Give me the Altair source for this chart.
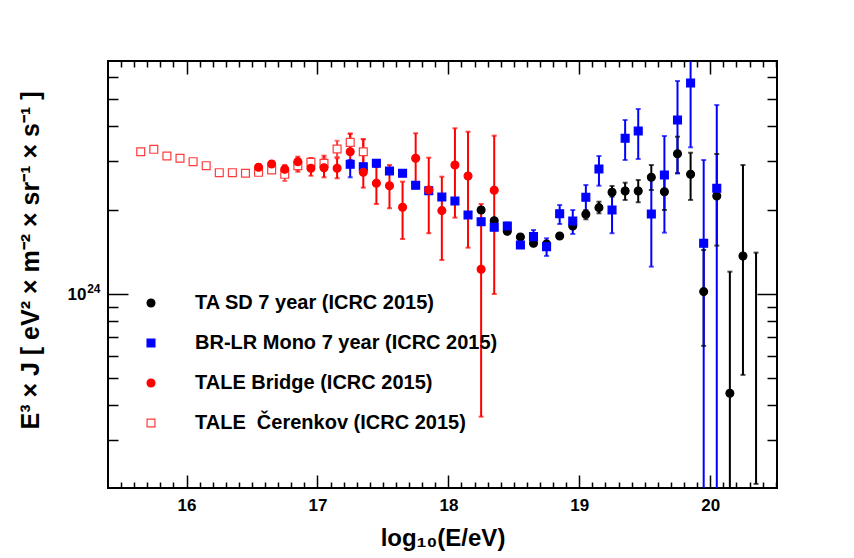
import altair as alt
import pandas as pd

# ---------------- data (E^3 J in units of 1e24 eV^2 m^-2 sr^-1 s^-1) ----------------
series_names = [
    "TA SD 7 year (ICRC 2015)",
    "BR-LR Mono 7 year (ICRC 2015)",
    "TALE Bridge (ICRC 2015)",
    "TALE\u00a0 Čerenkov (ICRC 2015)",
]

cer_x = [15.65, 15.75, 15.85, 15.95, 16.05, 16.15, 16.25, 16.35, 16.45,
         16.55, 16.65, 16.75, 16.85, 16.95, 17.05, 17.15, 17.25, 17.35]
cer_y = [3.244, 3.309, 3.131, 3.073, 2.988, 2.890, 2.728, 2.728, 2.715,
         2.737, 2.790, 2.692, 2.890, 2.973, 2.948, 3.317, 3.505, 3.244]
cer_lo = [3.20, 3.26, 3.09, 3.03, 2.95, 2.85, 2.69, 2.69, 2.68,
          2.70, 2.75, 2.548, 2.797, 2.876, 2.829, 3.106, 3.263, 2.931]
cer_hi = [3.29, 3.36, 3.17, 3.12, 3.03, 2.93, 2.77, 2.77, 2.75,
          2.78, 2.83, 2.836, 2.988, 3.073, 3.080, 3.552, 3.777, 3.603]

brg_x = [16.55, 16.65, 16.75, 16.85, 16.95, 17.05, 17.15, 17.25, 17.35, 17.45,
         17.55, 17.65, 17.75, 17.85, 17.95, 18.05, 18.15, 18.25, 18.35]
brg_y = [2.853, 2.931, 2.805, 2.988, 2.829, 2.843, 2.829, 3.244, 2.737, 2.500,
         2.450, 2.050, 3.073, 2.365, 1.994, 2.907, 2.655, 1.229, 2.359]
brg_hi = [2.924, 3.005, 2.907, 3.113, 3.080, 3.139, 3.073, 3.755, 3.594, 2.867,
          2.907, 2.533, 3.777, 3.088, 2.640, 3.936, 3.826, 2.107, 3.703]
brg_lo = [2.783, 2.860, 2.706, 2.751, 2.661, 2.626, 2.605, 2.948, 2.411, 2.107,
          2.034, 1.578, 2.418, 1.655, 1.327, 1.882, 1.469, 0.364, 1.002]

br_x = [17.25, 17.35, 17.45, 17.55, 17.65, 17.75, 17.85, 17.95, 18.05, 18.15,
        18.25, 18.35, 18.45, 18.55, 18.65, 18.75, 18.85, 18.95, 19.05, 19.15,
        19.25, 19.35, 19.45, 19.55, 19.65, 19.75, 19.85, 19.95, 20.05]
br_y = [2.924, 2.867, 2.948, 2.767, 2.715, 2.458, 2.351, 2.232, 2.160, 1.924,
        1.820, 1.739, 1.758, 1.502, 1.609, 1.481, 1.945, 1.831, 2.227, 2.813,
        2.005, 3.624, 3.848, 1.940, 2.677, 4.214, 5.720, 1.523, 2.399]
br_hi = [3.029, 2.938, 3.029, 2.813, 2.760, 2.500, 2.390, 2.270, 2.196, 1.956,
         1.851, 1.768, 1.806, 1.540, 1.700, 1.587, 2.089, 2.005, 2.465, 3.131,
         2.379, 4.214, 4.615, 2.626, 3.693, 5.815, 8.000, 3.029, 4.769]
br_lo = [2.626, 2.797, 2.869, 2.721, 2.670, 2.418, 2.313, 2.196, 2.125, 1.893,
         1.791, 1.710, 1.710, 1.465, 1.531, 1.372, 1.786, 1.645, 1.978, 2.450,
         1.655, 3.029, 3.054, 1.256, 1.663, 2.715, 3.364, 0.050, 0.050]

sd_x = [18.25, 18.35, 18.45, 18.55, 18.65, 18.75, 18.85, 18.95, 19.05, 19.15,
        19.25, 19.35, 19.45, 19.55, 19.65, 19.75, 19.85, 19.95, 20.05, 20.15,
        20.25, 20.35]
sd_y = [2.005, 1.835, 1.682, 1.605, 1.523, 1.514, 1.618, 1.758, 1.935, 2.044,
        2.321, 2.346, 2.346, 2.626, 2.332, 3.191, 2.692, 1.022, 2.251, 0.4417,
        1.372, 0.150]
sd_hi = [2.055, 1.877, 1.716, 1.634, 1.551, 1.540, 1.645, 1.795, 2.005, 2.147,
         2.445, 2.512, 2.569, 2.907, 2.640, 3.672, 3.217, 1.441, 3.183, 1.205,
         2.907, 1.410]
sd_lo = [1.956, 1.794, 1.650, 1.578, 1.495, 1.490, 1.592, 1.722, 1.857, 1.951,
         2.238, 2.178, 2.137, 2.365, 2.005, 2.715, 2.178, 0.653, 1.494, 0.050,
         0.514, 0.209]

x_major = [16, 17, 18, 19, 20]
y_major = [1.0]
y_minor = [0.3, 0.4, 0.5, 0.6, 0.7, 0.8, 0.9, 2.0, 3.0, 4.0, 5.0, 6.0]
x_minor = [round(15.5 + 0.1 * i, 1) for i in range(51) if (i % 10) != 5]

series_colors = ["#000000", "#0000ff", "#ff0000", "#ff3b3b"]
series_fills = ["#000000", "#0000ff", "#ff0000", "#ffffff"]

# ---------------- table (drawing order: Cerenkov, TA SD, BR-LR, Bridge) ----------------
frames = []
for name, xs_, ys_, lo_, hi_ in [
    (series_names[3], cer_x, cer_y, cer_lo, cer_hi),
    (series_names[0], sd_x, sd_y, sd_lo, sd_hi),
    (series_names[1], br_x, br_y, br_lo, br_hi),
    (series_names[2], brg_x, brg_y, brg_lo, brg_hi),
]:
    frames.append(pd.DataFrame({"x": xs_, "y": ys_, "lo": lo_, "hi": hi_, "series": name}))
df = pd.concat(frames, ignore_index=True)
df["col"] = df["series"].map(dict(zip(series_names, series_colors)))

W, H = 669, 427
FONT = "Liberation Sans"

xsc = alt.Scale(domain=[15.4, 20.51], nice=False, zero=False)
ysc = alt.Scale(type="log", domain=[0.202, 6.86], nice=False)

stroke_scale = alt.Scale(domain=series_names, range=series_colors)
fill_scale = alt.Scale(domain=series_names, range=series_fills)
shape_scale = alt.Scale(domain=series_names, range=["circle", "square", "circle", "square"])
size_scale = alt.Scale(domain=series_names, range=[62, 62, 62, 78])

leg = alt.Legend(
    title=None, orient="none", legendX=33, legendY=232,
    labelFont=FONT, labelFontWeight="bold", labelFontSize=20, labelColor="black",
    labelOffset=34, rowPadding=20, symbolStrokeWidth=1.2, symbolOpacity=1,
    padding=0, labelLimit=600,
)

base = alt.Chart(df)
X = alt.X("x:Q", scale=xsc, axis=None)
C = alt.Color("col:N", scale=None)

rules = base.mark_rule(strokeWidth=2, clip=True).encode(
    x=X, y=alt.Y("lo:Q", scale=ysc, axis=None), y2="hi:Q", color=C,
)
caps_lo = base.mark_tick(orient="horizontal", size=5, thickness=2, clip=True).encode(
    x=X, y=alt.Y("lo:Q", scale=ysc, axis=None), color=C,
)
caps_hi = base.mark_tick(orient="horizontal", size=5, thickness=2, clip=True).encode(
    x=X, y=alt.Y("hi:Q", scale=ysc, axis=None), color=C,
)
points = base.mark_point(filled=True, opacity=1, fillOpacity=1, strokeOpacity=1,
                         strokeWidth=1.2, clip=True).encode(
    x=X,
    y=alt.Y("y:Q", scale=ysc, axis=None),
    stroke=alt.Stroke("series:N", scale=stroke_scale, legend=leg),
    fill=alt.Fill("series:N", scale=fill_scale, legend=leg),
    shape=alt.Shape("series:N", scale=shape_scale, legend=leg),
    size=alt.Size("series:N", scale=size_scale, legend=leg),
)

tick_common = dict(labels=False, domain=False, grid=False, tickColor="black", tickWidth=1.5, title=None)


def axis_layer(ax, ay):
    return alt.Chart(df).mark_point(opacity=0).encode(
        x=alt.X("x:Q", scale=xsc, axis=ax),
        y=alt.Y("y:Q", scale=ysc, axis=ay),
    )


x_label_axis = alt.Axis(
    orient="bottom", values=x_major, format="d", ticks=False, domain=False, grid=False,
    labelFont=FONT, labelFontWeight="bold", labelFontSize=17, labelColor="black", labelPadding=9,
    title="log₁₀(E/eV)", titleFont=FONT, titleFontWeight="bold", titleFontSize=24,
    titleColor="black", titleY=50, titleBaseline="middle",
)
y_label_axis = alt.Axis(
    orient="left", values=y_major, labelExpr="'10'", ticks=False, domain=False, grid=False,
    labelFont=FONT, labelFontWeight="bold", labelFontSize=17, labelColor="black", labelPadding=22,
    title="E³ × J  [ eV² × m⁻² × sr⁻¹ × s⁻¹ ]", titleFont=FONT, titleFontWeight="bold",
    titleFontSize=25, titleColor="black", titleX=-78, titleY=199, titleAngle=-90,
    titleAlign="center", titleBaseline="middle",
)
y_exp_axis = alt.Axis(
    orient="left", values=y_major, labelExpr="'24'", ticks=False, domain=False, grid=False,
    labelFont=FONT, labelFontWeight="bold", labelFontSize=12, labelColor="black", labelPadding=8,
    labelOffset=-6, title=None,
)

axes = [
    axis_layer(x_label_axis, y_label_axis),
    axis_layer(alt.Axis(orient="top", offset=-H, values=x_major, tickSize=13, **tick_common),
               alt.Axis(orient="right", offset=-W, values=y_major, tickSize=20, **tick_common)),
    axis_layer(alt.Axis(orient="top", offset=-H, values=x_minor, tickSize=6, **tick_common),
               alt.Axis(orient="right", offset=-W, values=y_minor, tickSize=10, **tick_common)),
    axis_layer(alt.Axis(orient="bottom", offset=-H, values=x_major, tickSize=13, **tick_common),
               alt.Axis(orient="left", offset=-W, values=y_major, tickSize=20, **tick_common)),
    axis_layer(alt.Axis(orient="bottom", offset=-H, values=x_minor, tickSize=6, **tick_common),
               alt.Axis(orient="left", offset=-W, values=y_minor, tickSize=10, **tick_common)),
    axis_layer(None, y_exp_axis),
]

chart = alt.layer(rules, caps_lo, caps_hi, points, *axes).resolve_axis(
    x="independent", y="independent"
).properties(
    width=W, height=H,
    autosize=alt.AutoSizeParams(type="none"),
    padding={"left": 108, "top": 61, "right": 77, "bottom": 70},
    background="white",
).configure_view(stroke="black", strokeWidth=2)

chart.save("out.html", embed_options={"renderer": "svg", "actions": False})
